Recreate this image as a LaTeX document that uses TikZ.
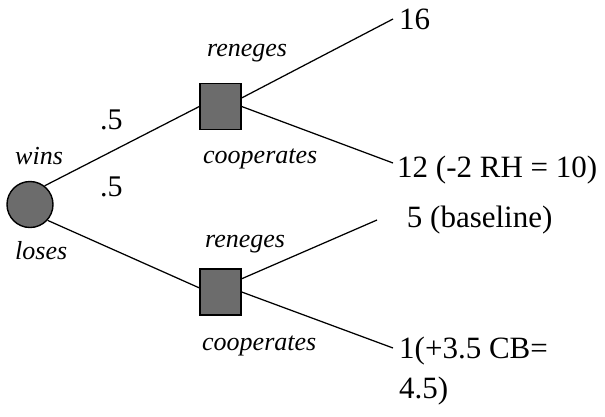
\documentclass[tikz,border=0pt]{standalone}
\usepackage{fontspec}
\setmainfont{Liberation Serif}
\definecolor{nodegray}{RGB}{108,108,108}
\begin{document}
\begin{tikzpicture}[x=1pt,y=-1pt,
  branch/.style={line width=1.25pt},
  chance/.style={circle,draw,line width=1.4pt,fill=nodegray,minimum size=46pt,inner sep=0pt},
  decision/.style={rectangle,draw,line width=1.4pt,fill=nodegray,minimum width=41pt,minimum height=46pt,inner sep=0pt},
  act/.style={anchor=base west,inner sep=0pt,font=\fontsize{26}{30}\selectfont\itshape},
  pay/.style={anchor=base west,inner sep=0pt,font=\fontsize{31}{35}\selectfont},
  prob/.style={anchor=base west,inner sep=0pt,font=\fontsize{30}{34}\selectfont},
]
\useasboundingbox (0,0) rectangle (605,416);
\node[chance] (c) at (30,204.5) {};
\node[decision] (s1) at (220.5,106.5) {};
\node[decision] (s2) at (220.5,292) {};
\coordinate (e1) at (393,19);
\coordinate (e2) at (393,163);
\coordinate (e3) at (377,220);
\coordinate (e4) at (393,348);
\draw[branch] (c.52) -- (s1.west);
\draw[branch] (c.-42) -- (s2.169);
\draw[branch] (s1.22) -- (e1);
\draw[branch] (s1.east) -- (e2);
\draw[branch] (s2.32) -- (e3);
\draw[branch] (s2.east) -- (e4);
\node[act] (wins) at (15,164) {wins};
\node[act] (loses) at (15,259) {loses};
\node[prob] (p1) at (100,129) {.5};
\node[prob] (p2) at (100,196) {.5};
\node[act] (r1) at (207,56) {reneges};
\node[act] (k1) at (203,163) {cooperates};
\node[act] (r2) at (205,247) {reneges};
\node[act] (k2) at (202,350) {cooperates};
\node[pay] (o1) at (399,29) {16};
\node[pay] (o2) at (397,177) {12 (-2 RH = 10)};
\node[pay] (o3) at (399,227) {\ 5 (baseline)};
\node[pay] (o4) at (399,358) {1(+3.5 CB=};
\node[pay] (o5) at (399,398) {4.5)};
\end{tikzpicture}
\end{document}
